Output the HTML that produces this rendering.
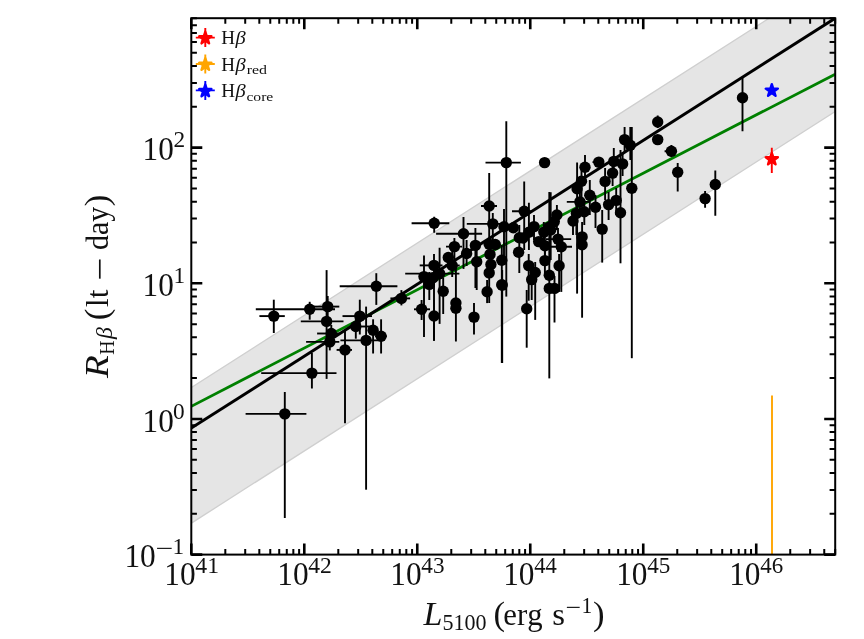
<!DOCTYPE html>
<html><head><meta charset="utf-8"><title>R-L</title>
<style>
html,body{margin:0;padding:0;background:#fff;}
body{width:864px;height:639px;overflow:hidden;position:relative;font-family:"Liberation Serif",serif;}
svg{position:absolute;left:0;top:0;display:block;will-change:transform}
text{font-family:"Liberation Serif",serif;fill:#111;font-kerning:none}
.it{font-style:italic}
</style></head><body>
<svg width="864" height="639" viewBox="0 0 864 639">
<defs><clipPath id="ax"><rect x="191.3" y="18.2" width="643.9" height="536.4"/></clipPath></defs>
<rect x="0" y="0" width="864" height="639" fill="#fff"/>

<g clip-path="url(#ax)">
<polygon points="186.3,390.7 779.2,11.8 840.2,8.2 840.2,108.3 186.3,526.4" fill="#e5e5e5" stroke="#cfcfcf" stroke-width="1.3"/>
<line x1="191.3" y1="406.3" x2="835.2" y2="74.2" stroke="#008000" stroke-width="2.8"/>
<line x1="191.3" y1="428.1" x2="835.2" y2="18.2" stroke="#000" stroke-width="3"/>
<g stroke="#000" stroke-width="1.9" fill="none">
<line x1="259.4" y1="316.1" x2="284.8" y2="316.1"/>
<line x1="273.8" y1="299.7" x2="273.8" y2="333.0"/>
<line x1="255.8" y1="309.2" x2="335.0" y2="309.2"/>
<line x1="309.7" y1="301.8" x2="309.7" y2="319.7"/>
<line x1="314.0" y1="306.6" x2="339.3" y2="306.6"/>
<line x1="327.7" y1="296.0" x2="327.7" y2="318.0"/>
<line x1="300.8" y1="321.4" x2="343.5" y2="321.4"/>
<line x1="326.6" y1="270.1" x2="326.6" y2="378.9"/>
<line x1="317.1" y1="333.5" x2="339.3" y2="333.5"/>
<line x1="331.3" y1="325.0" x2="331.3" y2="345.0"/>
<line x1="306.1" y1="341.9" x2="339.3" y2="341.9"/>
<line x1="329.8" y1="333.0" x2="329.8" y2="350.4"/>
<line x1="336.6" y1="349.9" x2="352.0" y2="349.9"/>
<line x1="345.0" y1="330.3" x2="345.0" y2="423.3"/>
<line x1="261.2" y1="373.1" x2="336.5" y2="373.1"/>
<line x1="311.9" y1="353.0" x2="311.9" y2="388.5"/>
<line x1="339.7" y1="286.3" x2="397.4" y2="286.3"/>
<line x1="376.3" y1="273.2" x2="376.3" y2="304.9"/>
<line x1="390.4" y1="298.4" x2="410.1" y2="298.4"/>
<line x1="401.4" y1="290.1" x2="401.4" y2="305.4"/>
<line x1="342.5" y1="316.1" x2="372.0" y2="316.1"/>
<line x1="359.8" y1="299.7" x2="359.8" y2="334.5"/>
<line x1="350.0" y1="326.5" x2="372.0" y2="326.5"/>
<line x1="355.8" y1="318.0" x2="355.8" y2="338.7"/>
<line x1="340.4" y1="340.4" x2="379.4" y2="340.4"/>
<line x1="366.1" y1="306.6" x2="366.1" y2="489.7"/>
<line x1="373.1" y1="319.3" x2="373.1" y2="353.5"/>
<line x1="375.0" y1="336.2" x2="386.8" y2="336.2"/>
<line x1="381.1" y1="319.3" x2="381.1" y2="353.5"/>
<line x1="245.6" y1="413.9" x2="306.4" y2="413.9"/>
<line x1="284.8" y1="392.0" x2="284.8" y2="517.9"/>
<line x1="411.6" y1="223.2" x2="449.3" y2="223.2"/>
<line x1="434.2" y1="216.8" x2="434.2" y2="232.7"/>
<line x1="481.0" y1="206.0" x2="497.0" y2="206.0"/>
<line x1="489.2" y1="173.1" x2="489.2" y2="244.0"/>
<line x1="436.1" y1="233.8" x2="482.1" y2="233.8"/>
<line x1="463.5" y1="217.0" x2="463.5" y2="268.9"/>
<line x1="466.8" y1="223.9" x2="505.0" y2="223.9"/>
<line x1="492.8" y1="213.0" x2="492.8" y2="240.0"/>
<line x1="504.0" y1="209.0" x2="504.0" y2="260.0"/>
<line x1="446.0" y1="246.6" x2="462.0" y2="246.6"/>
<line x1="454.4" y1="238.0" x2="454.4" y2="262.0"/>
<line x1="475.4" y1="228.0" x2="475.4" y2="288.0"/>
<line x1="466.6" y1="240.0" x2="466.6" y2="266.0"/>
<line x1="445.0" y1="265.5" x2="459.7" y2="265.5"/>
<line x1="452.2" y1="250.0" x2="452.2" y2="277.0"/>
<line x1="419.7" y1="265.4" x2="442.5" y2="265.4"/>
<line x1="434.0" y1="254.1" x2="434.0" y2="340.8"/>
<line x1="476.7" y1="250.0" x2="476.7" y2="290.0"/>
<line x1="501.8" y1="245.0" x2="501.8" y2="362.9"/>
<line x1="489.2" y1="262.0" x2="489.2" y2="303.0"/>
<line x1="405.2" y1="273.6" x2="459.4" y2="273.6"/>
<line x1="439.6" y1="247.7" x2="439.6" y2="323.9"/>
<line x1="424.0" y1="255.5" x2="424.0" y2="337.1"/>
<line x1="429.3" y1="272.0" x2="429.3" y2="300.0"/>
<line x1="443.2" y1="278.0" x2="443.2" y2="314.0"/>
<line x1="487.1" y1="280.0" x2="487.1" y2="303.1"/>
<line x1="455.9" y1="266.0" x2="455.9" y2="341.5"/>
<line x1="414.0" y1="309.3" x2="430.0" y2="309.3"/>
<line x1="421.6" y1="300.0" x2="421.6" y2="320.0"/>
<line x1="434.0" y1="300.0" x2="434.0" y2="340.8"/>
<line x1="474.0" y1="303.1" x2="474.0" y2="334.4"/>
<line x1="519.3" y1="225.0" x2="519.3" y2="273.0"/>
<line x1="485.5" y1="162.6" x2="520.9" y2="162.6"/>
<line x1="506.3" y1="121.3" x2="506.3" y2="296.6"/>
<line x1="512.0" y1="211.2" x2="532.0" y2="211.2"/>
<line x1="524.2" y1="181.4" x2="524.2" y2="250.0"/>
<line x1="550.7" y1="192.2" x2="550.7" y2="260.0"/>
<line x1="534.0" y1="215.0" x2="534.0" y2="240.0"/>
<line x1="528.9" y1="202.7" x2="528.9" y2="250.0"/>
<line x1="556.9" y1="205.0" x2="556.9" y2="230.0"/>
<line x1="543.8" y1="222.0" x2="543.8" y2="245.0"/>
<line x1="544.9" y1="236.0" x2="544.9" y2="262.0"/>
<line x1="546.0" y1="239.1" x2="571.2" y2="239.1"/>
<line x1="558.0" y1="228.0" x2="558.0" y2="252.0"/>
<line x1="549.0" y1="246.8" x2="572.0" y2="246.8"/>
<line x1="561.3" y1="238.0" x2="561.3" y2="291.9"/>
<line x1="544.9" y1="250.0" x2="544.9" y2="275.0"/>
<line x1="559.1" y1="254.0" x2="559.1" y2="291.9"/>
<line x1="528.7" y1="254.0" x2="528.7" y2="300.7"/>
<line x1="535.2" y1="262.0" x2="535.2" y2="319.9"/>
<line x1="531.7" y1="268.0" x2="531.7" y2="300.0"/>
<line x1="549.3" y1="192.0" x2="549.3" y2="378.4"/>
<line x1="554.5" y1="276.0" x2="554.5" y2="322.5"/>
<line x1="526.7" y1="290.0" x2="526.7" y2="347.7"/>
<line x1="502.2" y1="270.0" x2="502.2" y2="363.0"/>
<line x1="577.1" y1="162.6" x2="577.1" y2="293.6"/>
<line x1="581.5" y1="165.0" x2="581.5" y2="200.0"/>
<line x1="566.8" y1="201.9" x2="590.0" y2="201.9"/>
<line x1="579.9" y1="190.0" x2="579.9" y2="215.0"/>
<line x1="589.8" y1="180.0" x2="589.8" y2="215.0"/>
<line x1="584.3" y1="200.0" x2="584.3" y2="225.0"/>
<line x1="576.4" y1="203.0" x2="576.4" y2="235.0"/>
<line x1="573.0" y1="210.0" x2="573.0" y2="235.0"/>
<line x1="595.5" y1="195.0" x2="595.5" y2="228.0"/>
<line x1="582.1" y1="222.0" x2="582.1" y2="250.0"/>
<line x1="582.1" y1="232.0" x2="582.1" y2="317.7"/>
<line x1="602.2" y1="210.0" x2="602.2" y2="262.6"/>
<line x1="608.6" y1="192.0" x2="608.6" y2="220.0"/>
<line x1="616.2" y1="188.0" x2="616.2" y2="215.0"/>
<line x1="620.5" y1="150.0" x2="620.5" y2="263.3"/>
<line x1="585.0" y1="155.0" x2="585.0" y2="180.0"/>
<line x1="592.5" y1="162.1" x2="604.0" y2="162.1"/>
<line x1="613.8" y1="148.0" x2="613.8" y2="175.0"/>
<line x1="622.6" y1="152.0" x2="622.6" y2="176.0"/>
<line x1="612.6" y1="160.0" x2="612.6" y2="186.0"/>
<line x1="605.1" y1="168.0" x2="605.1" y2="200.0"/>
<line x1="624.6" y1="127.0" x2="624.6" y2="152.0"/>
<line x1="630.3" y1="127.0" x2="630.3" y2="160.0"/>
<line x1="631.8" y1="127.0" x2="631.8" y2="358.2"/>
<line x1="657.7" y1="115.5" x2="657.7" y2="128.0"/>
<line x1="664.6" y1="151.3" x2="677.0" y2="151.3"/>
<line x1="671.4" y1="145.0" x2="671.4" y2="157.0"/>
<line x1="677.7" y1="163.0" x2="677.7" y2="191.4"/>
<line x1="705.1" y1="190.9" x2="705.1" y2="207.7"/>
<line x1="715.3" y1="170.4" x2="715.3" y2="215.7"/>
<line x1="742.5" y1="78.1" x2="742.5" y2="131.3"/>
</g>
<g fill="#000">
<circle cx="273.8" cy="316.1" r="5.7"/>
<circle cx="309.7" cy="309.2" r="5.7"/>
<circle cx="327.7" cy="306.6" r="5.7"/>
<circle cx="326.6" cy="321.4" r="5.7"/>
<circle cx="331.3" cy="333.5" r="5.7"/>
<circle cx="329.8" cy="341.9" r="5.7"/>
<circle cx="345.0" cy="349.9" r="5.7"/>
<circle cx="311.9" cy="373.1" r="5.7"/>
<circle cx="376.3" cy="286.3" r="5.7"/>
<circle cx="401.4" cy="298.4" r="5.7"/>
<circle cx="359.8" cy="316.1" r="5.7"/>
<circle cx="355.8" cy="326.5" r="5.7"/>
<circle cx="366.1" cy="340.4" r="5.7"/>
<circle cx="373.1" cy="330.3" r="5.7"/>
<circle cx="381.1" cy="336.2" r="5.7"/>
<circle cx="284.8" cy="413.9" r="5.7"/>
<circle cx="434.2" cy="223.2" r="5.7"/>
<circle cx="489.2" cy="206.0" r="5.7"/>
<circle cx="463.5" cy="233.8" r="5.7"/>
<circle cx="492.8" cy="223.9" r="5.7"/>
<circle cx="504.0" cy="226.8" r="5.7"/>
<circle cx="454.4" cy="246.6" r="5.7"/>
<circle cx="475.4" cy="245.4" r="5.7"/>
<circle cx="489.2" cy="244.3" r="5.7"/>
<circle cx="495.3" cy="244.5" r="5.7"/>
<circle cx="466.6" cy="253.5" r="5.7"/>
<circle cx="448.3" cy="257.5" r="5.7"/>
<circle cx="452.2" cy="265.5" r="5.7"/>
<circle cx="434.0" cy="265.4" r="5.7"/>
<circle cx="476.7" cy="261.8" r="5.7"/>
<circle cx="490.0" cy="254.4" r="5.7"/>
<circle cx="501.8" cy="260.3" r="5.7"/>
<circle cx="490.9" cy="264.5" r="5.7"/>
<circle cx="489.2" cy="272.9" r="5.7"/>
<circle cx="439.6" cy="273.6" r="5.7"/>
<circle cx="424.0" cy="276.6" r="5.7"/>
<circle cx="433.1" cy="277.8" r="5.7"/>
<circle cx="429.3" cy="284.4" r="5.7"/>
<circle cx="443.2" cy="291.3" r="5.7"/>
<circle cx="487.1" cy="291.8" r="5.7"/>
<circle cx="501.8" cy="284.8" r="5.7"/>
<circle cx="455.9" cy="303.0" r="5.7"/>
<circle cx="455.9" cy="308.3" r="5.7"/>
<circle cx="421.6" cy="309.3" r="5.7"/>
<circle cx="434.0" cy="316.0" r="5.7"/>
<circle cx="474.0" cy="317.1" r="5.7"/>
<circle cx="519.3" cy="237.7" r="5.7"/>
<circle cx="518.6" cy="252.2" r="5.7"/>
<circle cx="513.3" cy="227.8" r="5.7"/>
<circle cx="506.3" cy="162.6" r="5.7"/>
<circle cx="544.6" cy="162.6" r="5.7"/>
<circle cx="524.2" cy="211.2" r="5.7"/>
<circle cx="550.7" cy="230.0" r="5.7"/>
<circle cx="534.0" cy="226.6" r="5.7"/>
<circle cx="528.9" cy="232.3" r="5.7"/>
<circle cx="523.0" cy="238.0" r="5.7"/>
<circle cx="556.9" cy="215.0" r="5.7"/>
<circle cx="554.3" cy="221.6" r="5.7"/>
<circle cx="549.3" cy="227.1" r="5.7"/>
<circle cx="543.8" cy="232.1" r="5.7"/>
<circle cx="538.7" cy="241.6" r="5.7"/>
<circle cx="544.9" cy="245.7" r="5.7"/>
<circle cx="558.0" cy="239.1" r="5.7"/>
<circle cx="561.3" cy="246.8" r="5.7"/>
<circle cx="544.9" cy="260.6" r="5.7"/>
<circle cx="559.1" cy="265.8" r="5.7"/>
<circle cx="528.7" cy="265.6" r="5.7"/>
<circle cx="535.2" cy="272.5" r="5.7"/>
<circle cx="531.7" cy="279.6" r="5.7"/>
<circle cx="549.3" cy="275.2" r="5.7"/>
<circle cx="549.3" cy="288.4" r="5.7"/>
<circle cx="554.5" cy="288.4" r="5.7"/>
<circle cx="526.7" cy="308.7" r="5.7"/>
<circle cx="502.2" cy="285.1" r="5.7"/>
<circle cx="577.1" cy="188.8" r="5.7"/>
<circle cx="581.5" cy="181.2" r="5.7"/>
<circle cx="579.9" cy="201.9" r="5.7"/>
<circle cx="589.8" cy="195.3" r="5.7"/>
<circle cx="584.3" cy="211.7" r="5.7"/>
<circle cx="576.4" cy="213.4" r="5.7"/>
<circle cx="573.0" cy="221.0" r="5.7"/>
<circle cx="595.5" cy="207.3" r="5.7"/>
<circle cx="582.1" cy="236.9" r="5.7"/>
<circle cx="582.1" cy="244.7" r="5.7"/>
<circle cx="602.2" cy="229.1" r="5.7"/>
<circle cx="608.6" cy="204.6" r="5.7"/>
<circle cx="616.2" cy="200.4" r="5.7"/>
<circle cx="620.5" cy="212.7" r="5.7"/>
<circle cx="585.0" cy="167.2" r="5.7"/>
<circle cx="598.8" cy="162.1" r="5.7"/>
<circle cx="613.8" cy="161.4" r="5.7"/>
<circle cx="622.6" cy="163.9" r="5.7"/>
<circle cx="612.6" cy="173.1" r="5.7"/>
<circle cx="605.1" cy="181.4" r="5.7"/>
<circle cx="624.6" cy="139.6" r="5.7"/>
<circle cx="630.3" cy="145.2" r="5.7"/>
<circle cx="631.8" cy="188.2" r="5.7"/>
<circle cx="657.7" cy="122.0" r="5.7"/>
<circle cx="657.7" cy="139.6" r="5.7"/>
<circle cx="671.4" cy="151.3" r="5.7"/>
<circle cx="677.7" cy="172.2" r="5.7"/>
<circle cx="705.1" cy="198.6" r="5.7"/>
<circle cx="715.3" cy="184.5" r="5.7"/>
<circle cx="742.5" cy="97.8" r="5.7"/>
</g>
<line x1="772" y1="395.5" x2="772" y2="560" stroke="#ffa500" stroke-width="1.9"/>
<line x1="771.8" y1="147.8" x2="771.8" y2="173.1" stroke="#ff0000" stroke-width="1.9"/>
<polygon points="771.80,152.80 773.24,157.22 777.89,157.22 774.13,159.96 775.56,164.38 771.80,161.65 768.04,164.38 769.47,159.96 765.71,157.22 770.36,157.22" fill="#ff0000" stroke="#ff0000" stroke-width="2.4" stroke-linejoin="round"/>
<polygon points="771.80,84.20 773.24,88.62 777.89,88.62 774.13,91.36 775.56,95.78 771.80,93.05 768.04,95.78 769.47,91.36 765.71,88.62 770.36,88.62" fill="#0000ff" stroke="#0000ff" stroke-width="2.4" stroke-linejoin="round"/>
</g>
<g stroke="#000" fill="none">
<path d="M191.30 554.6V543.6M191.30 18.2V29.2M304.29 554.6V543.6M304.29 18.2V29.2M417.27 554.6V543.6M417.27 18.2V29.2M530.26 554.6V543.6M530.26 18.2V29.2M643.24 554.6V543.6M643.24 18.2V29.2M756.23 554.6V543.6M756.23 18.2V29.2M191.3 554.60H202.3M835.2 554.60H824.2M191.3 418.95H202.3M835.2 418.95H824.2M191.3 283.30H202.3M835.2 283.30H824.2M191.3 147.64H202.3M835.2 147.64H824.2" stroke-width="2.6"/>
<path d="M225.31 554.6V549.0M225.31 18.2V23.8M245.21 554.6V549.0M245.21 18.2V23.8M259.32 554.6V549.0M259.32 18.2V23.8M270.27 554.6V549.0M270.27 18.2V23.8M279.22 554.6V549.0M279.22 18.2V23.8M286.78 554.6V549.0M286.78 18.2V23.8M293.34 554.6V549.0M293.34 18.2V23.8M299.12 554.6V549.0M299.12 18.2V23.8M338.30 554.6V549.0M338.30 18.2V23.8M358.19 554.6V549.0M358.19 18.2V23.8M372.31 554.6V549.0M372.31 18.2V23.8M383.26 554.6V549.0M383.26 18.2V23.8M392.21 554.6V549.0M392.21 18.2V23.8M399.77 554.6V549.0M399.77 18.2V23.8M406.32 554.6V549.0M406.32 18.2V23.8M412.10 554.6V549.0M412.10 18.2V23.8M451.28 554.6V549.0M451.28 18.2V23.8M471.18 554.6V549.0M471.18 18.2V23.8M485.29 554.6V549.0M485.29 18.2V23.8M496.24 554.6V549.0M496.24 18.2V23.8M505.19 554.6V549.0M505.19 18.2V23.8M512.75 554.6V549.0M512.75 18.2V23.8M519.31 554.6V549.0M519.31 18.2V23.8M525.09 554.6V549.0M525.09 18.2V23.8M564.27 554.6V549.0M564.27 18.2V23.8M584.16 554.6V549.0M584.16 18.2V23.8M598.28 554.6V549.0M598.28 18.2V23.8M609.23 554.6V549.0M609.23 18.2V23.8M618.18 554.6V549.0M618.18 18.2V23.8M625.74 554.6V549.0M625.74 18.2V23.8M632.29 554.6V549.0M632.29 18.2V23.8M638.07 554.6V549.0M638.07 18.2V23.8M677.25 554.6V549.0M677.25 18.2V23.8M697.15 554.6V549.0M697.15 18.2V23.8M711.27 554.6V549.0M711.27 18.2V23.8M722.21 554.6V549.0M722.21 18.2V23.8M731.16 554.6V549.0M731.16 18.2V23.8M738.72 554.6V549.0M738.72 18.2V23.8M745.28 554.6V549.0M745.28 18.2V23.8M751.06 554.6V549.0M751.06 18.2V23.8M790.24 554.6V549.0M790.24 18.2V23.8M810.13 554.6V549.0M810.13 18.2V23.8M824.25 554.6V549.0M824.25 18.2V23.8M835.20 554.6V549.0M835.20 18.2V23.8M191.3 513.76H196.9M835.2 513.76H829.6M191.3 489.88H196.9M835.2 489.88H829.6M191.3 472.93H196.9M835.2 472.93H829.6M191.3 459.78H196.9M835.2 459.78H829.6M191.3 449.04H196.9M835.2 449.04H829.6M191.3 439.96H196.9M835.2 439.96H829.6M191.3 432.09H196.9M835.2 432.09H829.6M191.3 425.16H196.9M835.2 425.16H829.6M191.3 378.11H196.9M835.2 378.11H829.6M191.3 354.23H196.9M835.2 354.23H829.6M191.3 337.28H196.9M835.2 337.28H829.6M191.3 324.13H196.9M835.2 324.13H829.6M191.3 313.39H196.9M835.2 313.39H829.6M191.3 304.31H196.9M835.2 304.31H829.6M191.3 296.44H196.9M835.2 296.44H829.6M191.3 289.50H196.9M835.2 289.50H829.6M191.3 242.46H196.9M835.2 242.46H829.6M191.3 218.57H196.9M835.2 218.57H829.6M191.3 201.63H196.9M835.2 201.63H829.6M191.3 188.48H196.9M835.2 188.48H829.6M191.3 177.74H196.9M835.2 177.74H829.6M191.3 168.66H196.9M835.2 168.66H829.6M191.3 160.79H196.9M835.2 160.79H829.6M191.3 153.85H196.9M835.2 153.85H829.6M191.3 106.81H196.9M835.2 106.81H829.6M191.3 82.92H196.9M835.2 82.92H829.6M191.3 65.97H196.9M835.2 65.97H829.6M191.3 52.83H196.9M835.2 52.83H829.6M191.3 42.09H196.9M835.2 42.09H829.6M191.3 33.01H196.9M835.2 33.01H829.6M191.3 25.14H196.9M835.2 25.14H829.6M191.3 18.20H196.9M835.2 18.20H829.6" stroke-width="2.0"/>
<rect x="191.3" y="18.2" width="643.9" height="536.4" stroke-width="2.0"/>
</g>
<text transform="translate(164.24,585.30) scale(0.909,1)" font-size="34.5">10</text>
<text transform="translate(195.34,572.90) scale(1.017,1)" font-size="23.3">41</text>
<text transform="translate(277.23,585.30) scale(0.909,1)" font-size="34.5">10</text>
<text transform="translate(308.33,572.90) scale(1.011,1)" font-size="23.3">42</text>
<text transform="translate(390.22,585.30) scale(0.909,1)" font-size="34.5">10</text>
<text transform="translate(421.32,572.90) scale(0.994,1)" font-size="23.3">43</text>
<text transform="translate(503.20,585.30) scale(0.909,1)" font-size="34.5">10</text>
<text transform="translate(534.31,572.90) scale(0.970,1)" font-size="23.3">44</text>
<text transform="translate(616.19,585.30) scale(0.909,1)" font-size="34.5">10</text>
<text transform="translate(647.29,572.90) scale(0.994,1)" font-size="23.3">45</text>
<text transform="translate(729.17,585.30) scale(0.909,1)" font-size="34.5">10</text>
<text transform="translate(760.28,572.90) scale(0.984,1)" font-size="23.3">46</text>
<text transform="translate(172.55,554.30) scale(1.000,1)" font-size="23.3">1</text>
<text transform="translate(155.44,556.20) scale(1.347,1)" font-size="23.3">−</text>
<text transform="translate(124.44,567.30) scale(0.909,1)" font-size="34.5">10</text>
<text transform="translate(172.99,418.65) scale(1.000,1)" font-size="23.3">0</text>
<text transform="translate(142.55,431.65) scale(0.905,1)" font-size="34.5">10</text>
<text transform="translate(173.50,283.00) scale(1.000,1)" font-size="23.3">1</text>
<text transform="translate(142.55,296.00) scale(0.905,1)" font-size="34.5">10</text>
<text transform="translate(173.39,147.34) scale(1.000,1)" font-size="23.3">2</text>
<text transform="translate(142.55,160.34) scale(0.905,1)" font-size="34.5">10</text>
<text transform="translate(423.60,625.10) scale(1.000,1)" font-size="34.0" font-style="italic">L</text>
<text transform="translate(442.42,630.00) scale(0.959,1)" font-size="23.0">5100</text>
<text transform="translate(493.47,625.10) scale(1.000,1)" font-size="34.7">(</text>
<text transform="translate(503.30,625.10) scale(0.993,1)" font-size="31.0">erg</text>
<text transform="translate(552.16,625.10) scale(1.055,1)" font-size="31.0">s</text>
<text transform="translate(565.43,614.70) scale(1.181,1)" font-size="23.3">−</text>
<text transform="translate(581.50,613.00) scale(0.927,1)" font-size="23.3">1</text>
<text transform="translate(593.08,625.10) scale(1.000,1)" font-size="34.7">)</text>
<text transform="translate(108.10,378.10) rotate(-90) scale(1.094,1)" font-size="34.0" font-style="italic">R</text>
<text transform="translate(113.60,354.87) rotate(-90) scale(0.897,1)" font-size="22.0">H</text>
<text transform="translate(112.40,339.12) rotate(-90) scale(1.058,1)" font-size="22.5" font-style="italic">β</text>
<text transform="translate(108.10,320.13) rotate(-90) scale(1.000,1)" font-size="34.7">(</text>
<text transform="translate(108.10,306.92) rotate(-90) scale(0.989,1)" font-size="31.5">lt</text>
<text transform="translate(111.00,281.05) rotate(-90) scale(1.214,1)" font-size="34.0">−</text>
<text transform="translate(108.10,250.08) rotate(-90) scale(0.950,1)" font-size="31.5">day</text>
<text transform="translate(108.10,206.32) rotate(-90) scale(1.000,1)" font-size="34.7">)</text>
<path d="M195.8 37.6H214.8M205.3 28.1V47.1" stroke="#ff0000" stroke-width="1.9" fill="none"/>
<polygon points="205.30,31.80 206.74,36.22 211.39,36.22 207.63,38.96 209.06,43.38 205.30,40.65 201.54,43.38 202.97,38.96 199.21,36.22 203.86,36.22" fill="#ff0000" stroke="#ff0000" stroke-width="2.4" stroke-linejoin="round"/>
<text transform="translate(221.15,44.20) scale(1.062,1)" font-size="18.0">H</text>
<text transform="translate(235.43,44.30) scale(1.101,1)" font-size="18.6" font-style="italic">β</text>
<path d="M195.8 64.0H214.8M205.3 54.5V73.5" stroke="#ffa500" stroke-width="1.9" fill="none"/>
<polygon points="205.30,58.20 206.74,62.62 211.39,62.62 207.63,65.36 209.06,69.78 205.30,67.05 201.54,69.78 202.97,65.36 199.21,62.62 203.86,62.62" fill="#ffa500" stroke="#ffa500" stroke-width="2.4" stroke-linejoin="round"/>
<text transform="translate(221.15,70.70) scale(1.062,1)" font-size="18.0">H</text>
<text transform="translate(235.43,70.80) scale(1.101,1)" font-size="18.6" font-style="italic">β</text>
<text transform="translate(246.68,74.30) scale(1.224,1)" font-size="13.0">red</text>
<path d="M195.8 90.4H214.8M205.3 80.9V99.9" stroke="#0000ff" stroke-width="1.9" fill="none"/>
<polygon points="205.30,84.60 206.74,89.02 211.39,89.02 207.63,91.76 209.06,96.18 205.30,93.45 201.54,96.18 202.97,91.76 199.21,89.02 203.86,89.02" fill="#0000ff" stroke="#0000ff" stroke-width="2.4" stroke-linejoin="round"/>
<text transform="translate(221.15,97.20) scale(1.062,1)" font-size="18.0">H</text>
<text transform="translate(235.43,97.30) scale(1.101,1)" font-size="18.6" font-style="italic">β</text>
<text transform="translate(246.40,100.80) scale(1.204,1)" font-size="13.0">core</text>
</svg></body></html>
